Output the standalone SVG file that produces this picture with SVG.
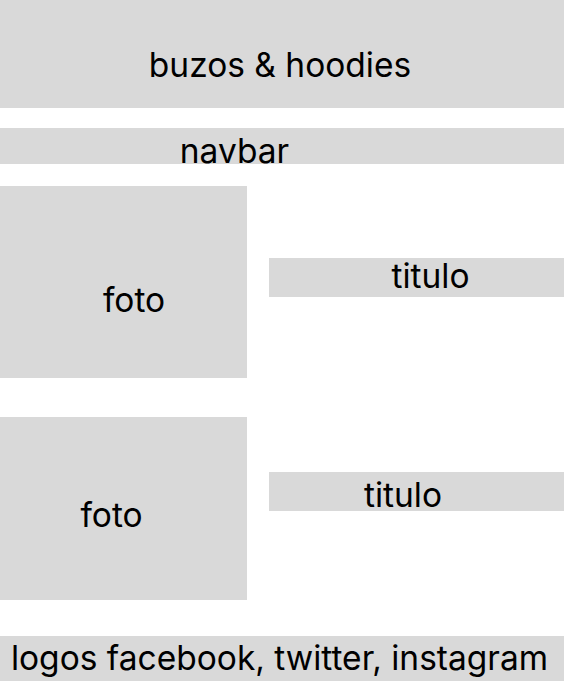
<svg xmlns="http://www.w3.org/2000/svg" width="564" height="681" viewBox="0 0 564 681">
<style>
rect{fill:#d9d9d9}
text{font-family:Inter,"Noto Sans",sans-serif;font-size:33.5px;fill:#000;text-anchor:middle}
</style>
<rect x="0" y="0" width="564" height="681" style="fill:#fff"/>
<g id="header"><rect x="0" y="0" width="564" height="108"/><text x="280" y="76.5">buzos &amp; hoodies</text></g>
<g id="navbar"><rect x="0" y="128" width="564" height="36"/><text x="234.5" y="162.5">navbar</text></g>
<g id="foto1"><rect x="0" y="186" width="247" height="192"/><text x="134" y="311.5">foto</text></g>
<g id="titulo1"><rect x="269" y="258" width="295" height="39"/><text x="430.5" y="287.5">titulo</text></g>
<g id="foto2"><rect x="0" y="417" width="247" height="183"/><text x="111.5" y="526.5">foto</text></g>
<g id="titulo2"><rect x="269" y="472" width="295" height="39"/><text x="403" y="506.5">titulo</text></g>
<g id="footer"><rect x="0" y="636" width="564" height="45"/><text x="279.5" y="669.5">logos facebook, twitter, instagram</text></g>
<g id="connectors"></g>
</svg>
